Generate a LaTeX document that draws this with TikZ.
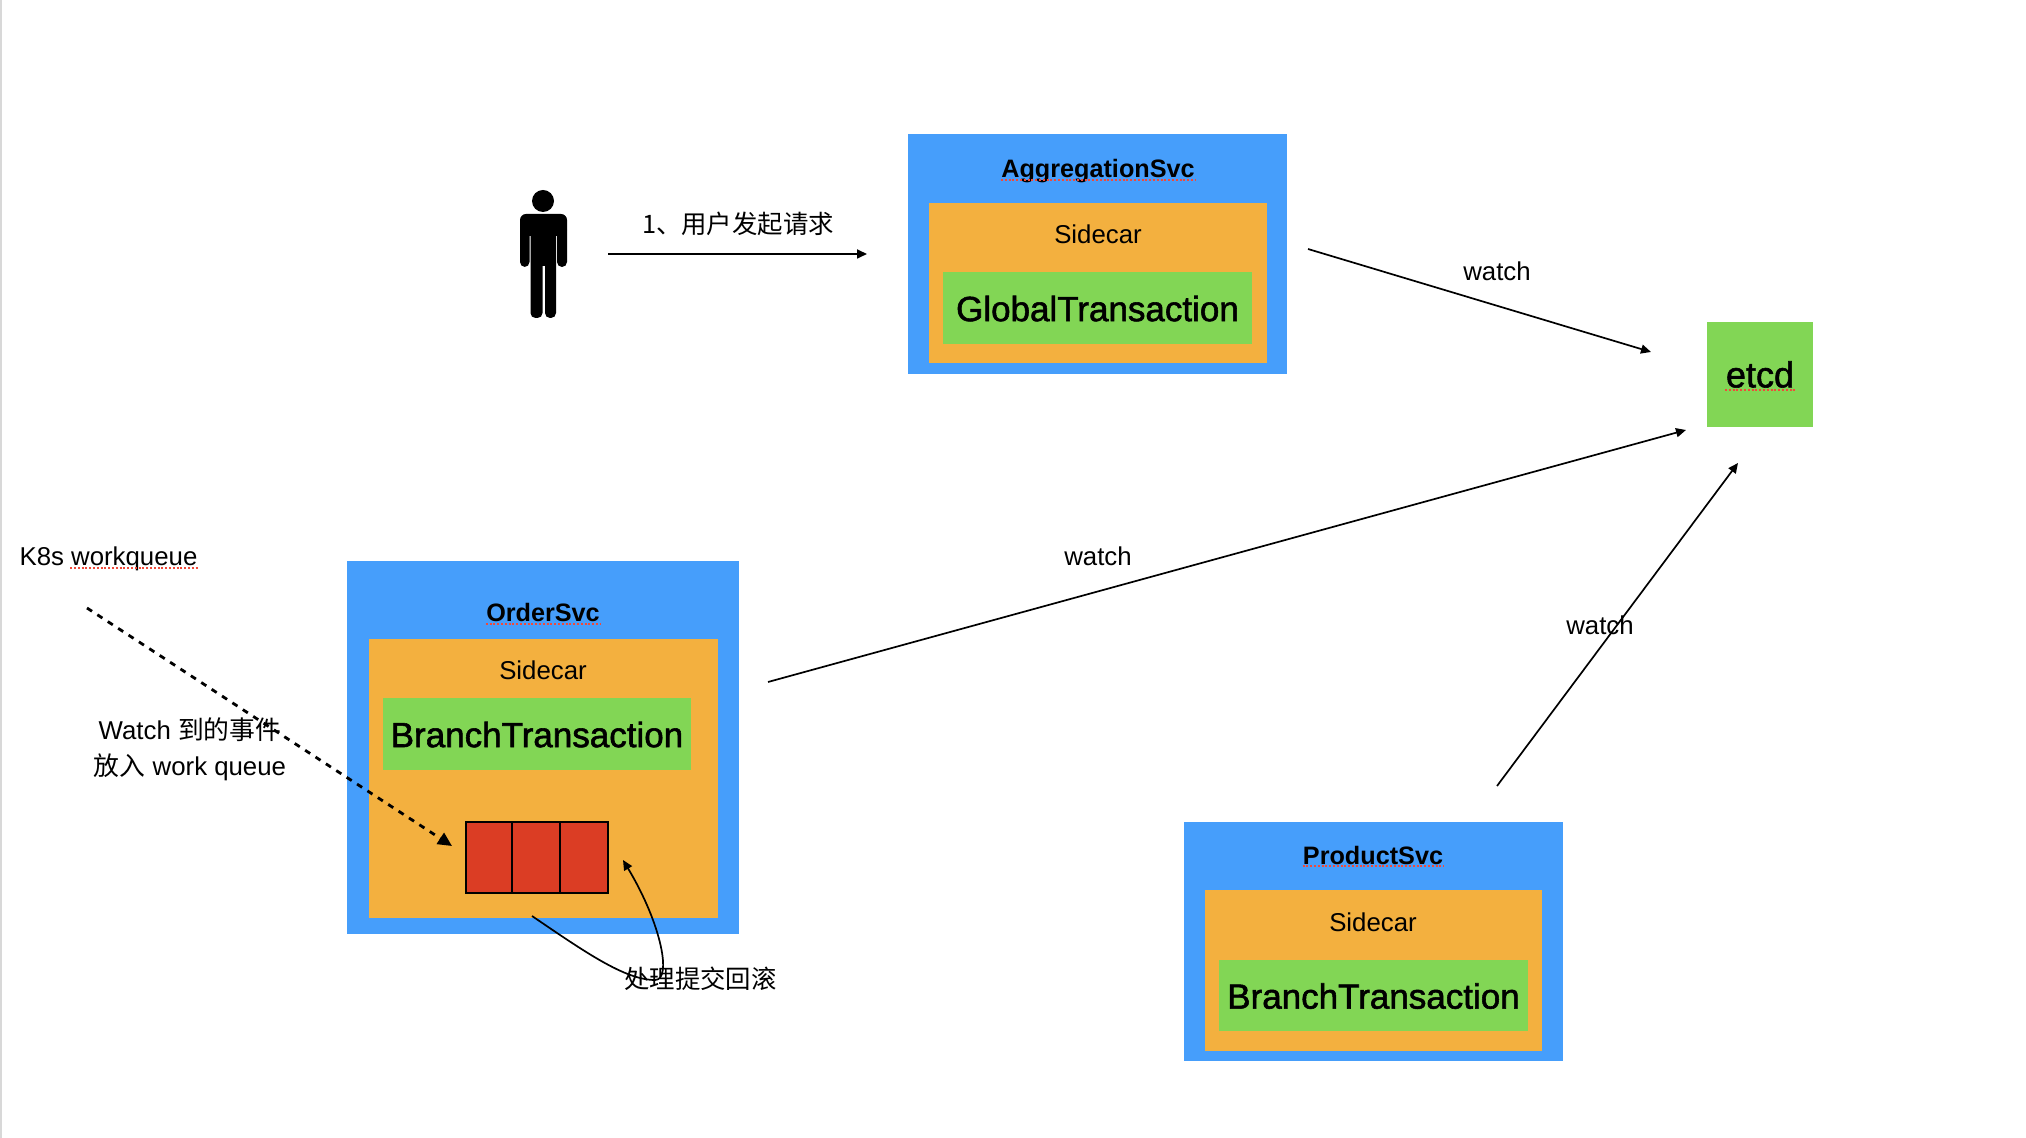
\documentclass[tikz,border=0pt]{standalone}
\usepackage{fontspec}
\setmainfont{Liberation Sans}
\newfontfamily\cjk{Noto Sans CJK SC}
\newfontfamily\heavy[FakeBold=1.6]{Liberation Sans}
\usetikzlibrary{arrows.meta, positioning}
\definecolor{cblue}{HTML}{469EFB}
\definecolor{corange}{HTML}{F3B03F}
\definecolor{cgreen}{HTML}{82D655}
\definecolor{cred}{HTML}{DB3D24}
\definecolor{cspell}{HTML}{F04A3A}
\definecolor{cedge}{HTML}{D8D8D8}
\tikzset{
  box/.style n args={3}{fill=#1, inner sep=0pt, minimum width=#2*0.5pt, minimum height=#3*0.5pt},
  label/.style={inner sep=0pt, anchor=base, align=center, font=\fontsize{12.9}{18}\selectfont},
  title/.style={label, font=\fontsize{12.6}{18}\selectfont\bfseries},
  cjklabel/.style={label, font=\fontsize{12.7}{18}\selectfont\cjk},
  big/.style={font=\fontsize{17.5}{20}\heavy, text height=13.3pt},
  cell/.style={box={cred}{#1}{71}, draw=black, line width=0.85pt},
  arrow/.style={-{Triangle[length=5pt, width=4.5pt]}, line width=0.85pt},
  watched/.style={-{Triangle[length=7pt, width=6.5pt]}, line width=1.4pt, dash pattern=on 3pt off 3.2pt},
  spell/.style={cspell, line width=0.9pt, dash pattern=on 1pt off 0.9pt},
}

\begin{document}
\begin{tikzpicture}[x=0.5pt, y=-0.5pt]
  \useasboundingbox (0,0) rectangle (2026,1138);
  \fill[cedge] (0,0) rectangle (2,1138);

  % aggregation service
  \node[box={cblue}{379}{240}] (aggsvc) at (1097.5,254) {};
  \node[box={corange}{338}{160}] (aggcar) at (1098,283) {};
  \node[box={cgreen}{309}{72}, big] (aggtx) at (1097.5,308) {GlobalTransaction};
  \node[title] (aggname) at (1098,177.5) {AggregationSvc};
  \node[label] (aggside) at (1098,243.5) {Sidecar};

  % order service with its work queue
  \node[box={cblue}{392}{373}] (ordersvc) at (543,747.5) {};
  \node[box={corange}{349}{279}] (ordercar) at (543.5,778.5) {};
  \node[box={cgreen}{308}{72}, big] (ordertx) at (537,734) {BranchTransaction};
  \node[title] (ordername) at (543,621.5) {OrderSvc};
  \node[label] (orderside) at (543,679.5) {Sidecar};
  \foreach \n/\x/\w in {qa/489/46, qb/536/48, qc/584/48} {
    \node[cell=\w] (\n) at (\x,857.5) {};
  }

  % product service
  \node[box={cblue}{379}{239}] (prodsvc) at (1373.5,941.5) {};
  \node[box={corange}{337}{161}] (prodcar) at (1373.5,970.5) {};
  \node[box={cgreen}{309}{71}, big] (prodtx) at (1373.5,995.5) {BranchTransaction};
  \node[title] (prodname) at (1373,864) {ProductSvc};
  \node[label] (prodside) at (1373,931) {Sidecar};

  \node[box={cgreen}{106}{105}, font=\fontsize{18}{20}\heavy] (etcd) at (1760,374.5) {etcd};

  % person
  \node[circle, fill=black, inner sep=0pt, minimum size=11pt] (head) at (543,201) {};
  \fill[rounded corners=3pt] (520,214) rectangle (567,236);
  \fill (530.5,222) rectangle (556,266);
  \foreach \a/\b/\c in {520/529.5/267, 557/567/267, 530.5/542.5/318, 545/556/318} {
    \fill[rounded corners=2.5pt] (\a,225) rectangle (\b,\c);
  }

  % loose ends of the arrows
  \coordinate (userout) at (608,254);
  \coordinate (aggin) at (867,254);
  \coordinate (aggout) at (1308,249);
  \coordinate (etcdtop) at (1651,352);
  \coordinate (orderout) at (768,682);
  \coordinate (etcdleft) at (1686,430);
  \coordinate (prodout) at (1497,786);
  \coordinate (etcdlow) at (1738,463);
  \coordinate (k8sout) at (87,608);
  \coordinate (queuein) at (452,846);
  \coordinate (queueout) at (532,916);
  \coordinate (turn) at (655,980);
  \coordinate (queueback) at (623,860);

  \draw[arrow] (userout) -- (aggin);
  \draw[arrow] (aggout) -- (etcdtop);
  \draw[arrow] (orderout) -- (etcdleft);
  \draw[arrow] (prodout) -- (etcdlow);
  \draw[watched] (k8sout) -- (queuein);
  \draw[arrow] (queueout) .. controls (585,952) and (625,980) .. (turn) .. controls (672,980) and (662,925) .. (queueback);

  % free labels
  \node[cjklabel] (request) at (738,234) {1、用户发起请求};
  \node[label] (watcha) at (1497,280.5) {watch};
  \node[label] (watchb) at (1098,565.5) {watch};
  \node[label] (watchc) at (1600,634.5) {watch};
  \node[label] (k8s) at (108.5,565.5) {K8s workqueue};
  \node[label] (event) at (190,775.5) {Watch {\cjk 到的事件}\\{\cjk 放入} work queue};
  \node[cjklabel] (handle) at (700.5,988) {处理提交回滚};

  % spell checker marks
  \foreach \n in {aggname, ordername, prodname} {
    \draw[spell] ([yshift=-1.2pt]\n.base west) -- ([yshift=-1.2pt]\n.base east);
  }
  \draw[spell] ([xshift=-17.5pt,yshift=-7.6pt]etcd.center) -- ([xshift=17.5pt,yshift=-7.6pt]etcd.center);
  \draw[spell] ([xshift=25.5pt,yshift=-1.2pt]k8s.base west) -- ([yshift=-1.2pt]k8s.base east);
\end{tikzpicture}
\end{document}
